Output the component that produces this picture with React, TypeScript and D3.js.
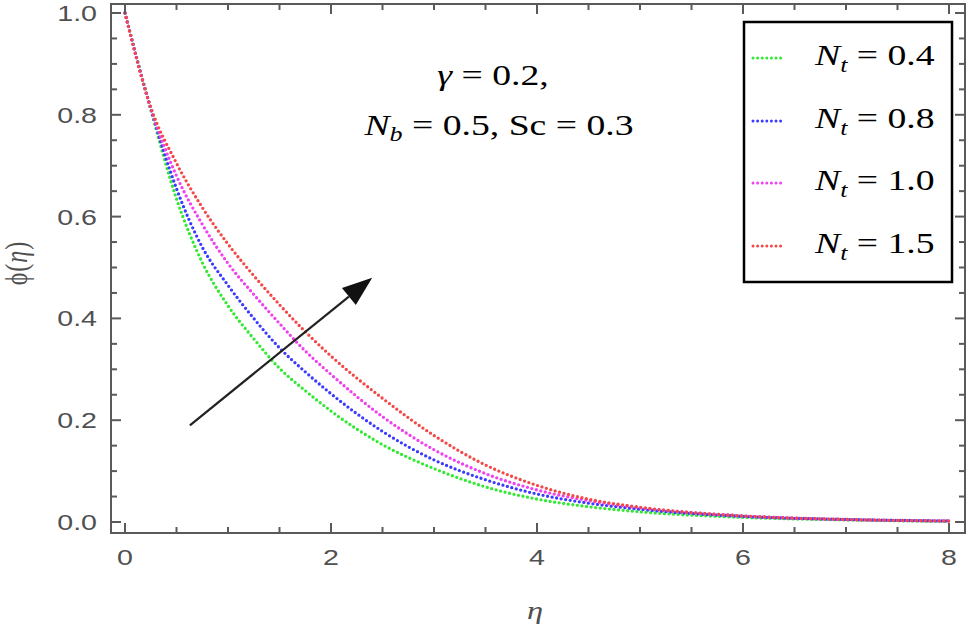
import React from "react";
import * as d3 from "d3";

// ---- data ----
const eta = [0, 0.25, 0.5, 0.75, 1, 1.25, 1.5, 1.75, 2, 2.5, 3, 3.5, 4, 4.5, 5, 6, 7, 8];
const phiNt04 = [1, 0.81, 0.635, 0.51, 0.425, 0.36, 0.302, 0.258, 0.218, 0.152, 0.105, 0.069, 0.045, 0.03, 0.02, 0.009, 0.004, 0.001];
const phiNt08 = [1, 0.812, 0.655, 0.54, 0.465, 0.4, 0.342, 0.295, 0.252, 0.178, 0.122, 0.083, 0.055, 0.037, 0.025, 0.011, 0.005, 0.002];
const phiNt10 = [1, 0.813, 0.68, 0.585, 0.508, 0.447, 0.39, 0.336, 0.29, 0.207, 0.142, 0.095, 0.063, 0.042, 0.028, 0.012, 0.005, 0.002];
const phiNt15 = [1, 0.815, 0.705, 0.618, 0.546, 0.484, 0.427, 0.374, 0.326, 0.243, 0.17, 0.112, 0.072, 0.045, 0.029, 0.012, 0.005, 0.002];
const seriesLabels = ["0.4", "0.8", "1.0", "1.5"];
const seriesColors = ["#33e833", "#3b3bff", "#f040f0", "#f24848"];
const xTicks = [0, 2, 4, 6, 8];
const xTickLabels = ["0", "2", "4", "6", "8"];
const yTicks = [0, 0.2, 0.4, 0.6, 0.8, 1.0];
const yTickLabels = ["0.0", "0.2", "0.4", "0.6", "0.8", "1.0"];
const arrowFrom = [0.63, 0.19];
const arrowTo = [2.4, 0.48];

const W = 967;
const H = 630;
const FL = 111, FR = 965, FT = 4, FB = 533;
const SX = 1.3; // horizontal stretch of all text in the reference

const x = d3.scaleLinear().domain([0, 8]).range([125, 949]);
const y = d3.scaleLinear().domain([0, 1]).range([522, 13]);

function STxt({ x: tx, y: ty, anchor = "start", size, family, italic = false, fill = "#000", children }: any) {
  return (
    <g transform={`translate(${tx},${ty}) scale(${SX},1)`}>
      <text textAnchor={anchor} fontSize={size} fontFamily={family} fontStyle={italic ? "italic" : "normal"} fill={fill}>
        {children}
      </text>
    </g>
  );
}

export default function App() {
  const series = [phiNt04, phiNt08, phiNt10, phiNt15];
  const line = d3
    .line<number>()
    .x((_, i) => x(eta[i]))
    .y((d) => y(d))
    .curve(d3.curveMonotoneX);

  const xMinor = d3.range(0, 8.01, 0.5).filter((v) => Math.abs(v / 2 - Math.round(v / 2)) > 1e-6);
  const yMinor = d3.range(0, 1.001, 0.05).filter((v) => Math.abs(v / 0.2 - Math.round(v / 0.2)) > 1e-6);
  const frameColor = "#5a5a5a";
  const tickColor = "#505050";
  const serif = "'Liberation Serif', 'Times New Roman', serif";
  const sans = "'Liberation Sans', Arial, sans-serif";

  // arrow geometry
  const ax1 = x(arrowFrom[0]), ay1 = y(arrowFrom[1]);
  const ax2 = x(arrowTo[0]), ay2 = y(arrowTo[1]);
  const ang = Math.atan2(ay2 - ay1, ax2 - ax1);
  const hl = 30, hw = 11;
  const bx = ax2 - hl * Math.cos(ang), by = ay2 - hl * Math.sin(ang);
  const head = [
    [ax2, ay2],
    [bx + hw * Math.sin(ang), by - hw * Math.cos(ang)],
    [bx - hw * Math.sin(ang), by + hw * Math.cos(ang)],
  ];

  const legendRows = [65, 128, 190, 253];

  return (
    <svg width={W} height={H} style={{ position: "absolute", left: 0, top: 0, background: "#fff" }}>
      <rect x={0} y={0} width={W} height={H} fill="#fff" />
      {/* curves */}
      {series.map((s, i) => (
        <path
          key={i}
          d={line(s) || ""}
          fill="none"
          stroke={seriesColors[i]}
          strokeWidth={3.3}
          strokeDasharray="0 4.6"
          strokeLinecap="round"
        />
      ))}
      {/* frame */}
      <rect x={FL} y={FT} width={FR - FL} height={FB - FT} fill="none" stroke={frameColor} strokeWidth={2} />
      {/* x ticks */}
      {xTicks.map((v) => (
        <g key={"xt" + v}>
          <line x1={x(v)} x2={x(v)} y1={FB} y2={FB - 10} stroke={frameColor} strokeWidth={2} />
          <line x1={x(v)} x2={x(v)} y1={FT} y2={FT + 10} stroke={frameColor} strokeWidth={2} />
        </g>
      ))}
      {xMinor.map((v) => (
        <g key={"xm" + v}>
          <line x1={x(v)} x2={x(v)} y1={FB} y2={FB - 6} stroke={frameColor} strokeWidth={2} />
          <line x1={x(v)} x2={x(v)} y1={FT} y2={FT + 6} stroke={frameColor} strokeWidth={2} />
        </g>
      ))}
      {yTicks.map((v) => (
        <g key={"yt" + v}>
          <line x1={FL} x2={FL + 10} y1={y(v)} y2={y(v)} stroke={frameColor} strokeWidth={2} />
          <line x1={FR} x2={FR - 10} y1={y(v)} y2={y(v)} stroke={frameColor} strokeWidth={2} />
        </g>
      ))}
      {yMinor.map((v) => (
        <g key={"ym" + v}>
          <line x1={FL} x2={FL + 6} y1={y(v)} y2={y(v)} stroke={frameColor} strokeWidth={2} />
          <line x1={FR} x2={FR - 6} y1={y(v)} y2={y(v)} stroke={frameColor} strokeWidth={2} />
        </g>
      ))}
      {/* tick labels */}
      {xTicks.map((v, i) => (
        <STxt key={"xl" + v} x={x(v)} y={565} anchor="middle" size={22} family={sans} fill={tickColor}>
          {xTickLabels[i]}
        </STxt>
      ))}
      {yTicks.map((v, i) => (
        <STxt key={"yl" + v} x={97} y={y(v) + 8} anchor="end" size={22} family={sans} fill={tickColor}>
          {yTickLabels[i]}
        </STxt>
      ))}
      {/* axis labels */}
      <STxt x={535} y={619} anchor="middle" size={25} family={serif} italic fill={tickColor}>
        η
      </STxt>
      <g transform={`translate(27,263) scale(${SX},1) rotate(-90)`}>
        <text textAnchor="middle" fontSize={24} fontFamily={serif} fill={tickColor} letterSpacing={1}>
          ϕ(<tspan fontStyle="italic">η</tspan>)
        </text>
      </g>
      {/* arrow */}
      <line x1={ax1} y1={ay1} x2={bx} y2={by} stroke="#222" strokeWidth={2.2} />
      <polygon points={head.map((p) => p.join(",")).join(" ")} fill="#111" />
      {/* annotation */}
      <STxt x={493} y={85} anchor="middle" size={29} family={serif}>
        <tspan fontStyle="italic">γ</tspan> = 0.2,
      </STxt>
      <STxt x={499} y={135} anchor="middle" size={29} family={serif}>
        <tspan fontStyle="italic">N</tspan>
        <tspan fontStyle="italic" fontSize={20} dy={6}>b</tspan>
        <tspan dy={-6}> = 0.5, Sc = 0.3</tspan>
      </STxt>
      {/* legend */}
      <rect x={744} y={22} width={208} height={260} fill="#fff" stroke="#000" strokeWidth={2.5} />
      {seriesLabels.map((lab, i) => (
        <g key={"lg" + i}>
          <line
            x1={753}
            x2={782}
            y1={legendRows[i] - 7}
            y2={legendRows[i] - 7}
            stroke={seriesColors[i]}
            strokeWidth={3}
            strokeDasharray="0 4.6"
            strokeLinecap="round"
          />
          <STxt x={815} y={legendRows[i]} anchor="start" size={29} family={serif}>
            <tspan fontStyle="italic">N</tspan>
            <tspan fontStyle="italic" fontSize={20} dy={7}>t</tspan>
            <tspan dy={-7}> = {lab}</tspan>
          </STxt>
        </g>
      ))}
    </svg>
  );
}
